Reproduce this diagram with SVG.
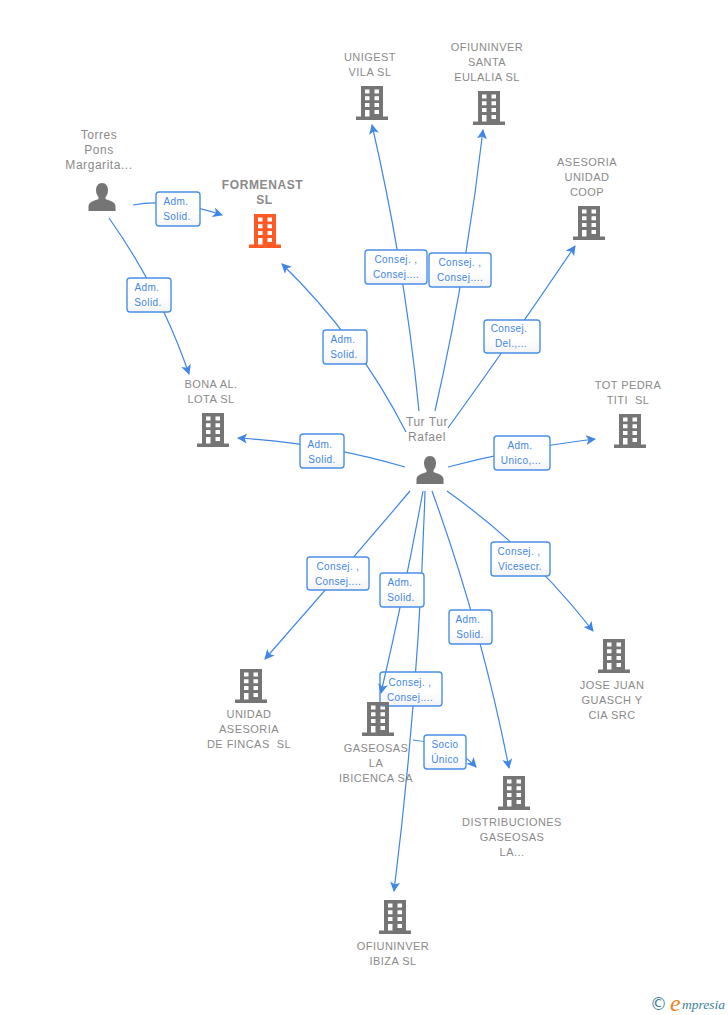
<svg xmlns="http://www.w3.org/2000/svg" xmlns:xlink="http://www.w3.org/1999/xlink" width="728" height="1015" viewBox="0 0 728 1015">
<style>
text{font-family:"Liberation Sans",Arial,sans-serif}
.n{font-size:11px;fill:#8a8a8a;text-anchor:middle;letter-spacing:.45px;white-space:pre}
.p{font-size:12px;fill:#8a8a8a;text-anchor:middle;letter-spacing:.55px}
.l{font-size:10px;fill:#3f86e6;text-anchor:middle;letter-spacing:.4px}
.c{fill:none;stroke:#3f86e6;stroke-width:1.2}
.b{fill:url(#g);stroke:#4a8fe8;stroke-width:1.4}
</style>
<defs>
<linearGradient id="g" x1="0" y1="0" x2="0" y2="1"><stop offset="0" stop-color="#fff"/><stop offset="0.6" stop-color="#fff"/><stop offset="1" stop-color="#f3f3f3"/></linearGradient>
<marker id="a" markerUnits="userSpaceOnUse" markerWidth="11" markerHeight="11" refX="9" refY="5" orient="auto"><path d="M0 0L10 5L0 10L2.500 5Z" fill="#3f86e6"/></marker>
<g id="bld"><path d="M-11-17H11V13.500H16V17H-16V13.500H-11ZM-7-13.500V-9.500H-2.500V-13.500ZM2.500-13.500V-9.500H7V-13.500ZM-7-6.700V-2.700H-2.500V-6.700ZM2.500-6.700V-2.700H7V-6.700ZM-7 0V4H-2.500V0ZM2.500 0V4H7V0ZM-7 7V13.500H-2.500V7ZM2.500 7V11H7V7Z" fill-rule="evenodd"/></g>
<g id="per"><path d="M0-14C4-14 6-10.500 6-7C6-3.500 4.500-1 3.500 0V2C6 3.500 13 4 13.500 9V14H-13.500V9C-13 4-6 3.500-3.500 2V0C-4.500-1-6-3.500-6-7C-6-10.500-4-14 0-14Z"/></g>
</defs>
<rect width="728" height="1015" fill="#fff"/>
<g id="connectors">
<path class="c" marker-end="url(#a)" d="M133 205Q170 198 222 215"/>
<path class="c" marker-end="url(#a)" d="M109 218Q160 290 189 374"/>
<path class="c" marker-end="url(#a)" d="M406 432Q358 338 282 264"/>
<path class="c" marker-end="url(#a)" d="M419 411Q405 268 372 125"/>
<path class="c" marker-end="url(#a)" d="M435 411Q467 270 483 130"/>
<path class="c" marker-end="url(#a)" d="M448 428Q513 338 575 246"/>
<path class="c" marker-end="url(#a)" d="M405 467Q323 443 238 438"/>
<path class="c" marker-end="url(#a)" d="M448 467Q520 448 595 439"/>
<path class="c" marker-end="url(#a)" d="M410 491Q339 575 265 659"/>
<path class="c" marker-end="url(#a)" d="M425 491Q419 691 394 891"/>
<path class="c" marker-end="url(#a)" d="M432 491Q481 626 509 768"/>
<path class="c" marker-end="url(#a)" d="M447 491Q530 550 593 631"/>
<path class="c" marker-end="url(#a)" d="M413 740Q456 745 476 767"/>
</g>
<g id="edge-labels">
<rect class="b" x="156" y="192" width="44" height="34" rx="3"/><text class="l" x="176" y="205">Adm.</text><text class="l" x="177" y="220">Solid.</text>
<rect class="b" x="127" y="278" width="44" height="34" rx="3"/><text class="l" x="147" y="291">Adm.</text><text class="l" x="148" y="306">Solid.</text>
<rect class="b" x="323" y="330" width="44" height="34" rx="3"/><text class="l" x="343" y="343">Adm.</text><text class="l" x="344" y="358">Solid.</text>
<rect class="b" x="365" y="250" width="62" height="34" rx="3"/><text class="l" x="396" y="263">Consej. ,</text><text class="l" x="396" y="278">Consej....</text>
<rect class="b" x="429" y="253" width="62" height="34" rx="3"/><text class="l" x="460" y="266">Consej. ,</text><text class="l" x="460" y="281">Consej....</text>
<rect class="b" x="484" y="320" width="56" height="33" rx="3"/><text class="l" x="509" y="332">Consej.</text><text class="l" x="511" y="347">Del.,...</text>
<rect class="b" x="300" y="434" width="44" height="34" rx="3"/><text class="l" x="320" y="448">Adm.</text><text class="l" x="322" y="463">Solid.</text>
<rect class="b" x="494" y="436" width="56" height="34" rx="3"/><text class="l" x="520" y="449">Adm.</text><text class="l" x="521" y="464">Unico,...</text>
<rect class="b" x="307" y="557" width="62" height="33" rx="3"/><text class="l" x="338" y="570">Consej. ,</text><text class="l" x="338" y="585">Consej....</text>
<rect class="b" x="491" y="542" width="59" height="34" rx="3"/><text class="l" x="519" y="555">Consej. ,</text><text class="l" x="520" y="570">Vicesecr.</text>
<rect class="b" x="449" y="610" width="43" height="34" rx="3"/><text class="l" x="468" y="623">Adm.</text><text class="l" x="470" y="638">Solid.</text>
<rect class="b" x="380" y="672" width="62" height="34" rx="3"/><text class="l" x="410" y="686">Consej. ,</text><text class="l" x="410" y="701">Consej....</text>
<rect class="b" x="424" y="735" width="42" height="34" rx="3"/><text class="l" x="445" y="748">Socio</text><text class="l" x="445" y="763">Único</text>
</g>
<g id="connectors-top">
<path class="c" marker-end="url(#a)" d="M423 491Q405 590 381 693"/>
</g>
<g id="edge-labels-top">
<rect class="b" x="380" y="573" width="44" height="34" rx="3"/><text class="l" x="400" y="586">Adm.</text><text class="l" x="401" y="601">Solid.</text>
</g>
<g id="torres" fill="#757575"><use xlink:href="#per" x="102" y="197"/><text class="p" x="99" y="139">Torres</text><text class="p" x="99" y="154">Pons</text><text class="p" x="99" y="169">Margarita...</text></g>
<g id="tur" fill="#757575"><use xlink:href="#per" x="430" y="470"/><text class="p" x="427" y="426">Tur Tur</text><text class="p" x="427" y="441">Rafael</text></g>
<g id="formenast" fill="#ff5a26"><use xlink:href="#bld" x="265" y="231"/><text class="n" x="262.500" y="189" style="font-weight:bold;font-size:12px;letter-spacing:.6px">FORMENAST</text><text class="n" x="264.500" y="204" style="font-weight:bold;font-size:12px;letter-spacing:.6px">SL</text></g>
<g id="unigest" fill="#757575"><use xlink:href="#bld" x="372" y="103"/><text class="n" x="370" y="61">UNIGEST</text><text class="n" x="370" y="76">VILA SL</text></g>
<g id="ofiuninver-santa" fill="#757575"><use xlink:href="#bld" x="489" y="108"/><text class="n" x="487" y="51">OFIUNINVER</text><text class="n" x="487" y="66">SANTA</text><text class="n" x="487" y="81">EULALIA SL</text></g>
<g id="asesoria" fill="#757575"><use xlink:href="#bld" x="589" y="223"/><text class="n" x="587" y="166">ASESORIA</text><text class="n" x="587" y="181">UNIDAD</text><text class="n" x="587" y="196">COOP</text></g>
<g id="bona" fill="#757575"><use xlink:href="#bld" x="213" y="430"/><text class="n" x="211" y="388">BONA AL.</text><text class="n" x="211" y="403">LOTA SL</text></g>
<g id="tot-pedra" fill="#757575"><use xlink:href="#bld" x="630" y="431"/><text class="n" x="628" y="389">TOT PEDRA</text><text class="n" x="628" y="404">TITI  SL</text></g>
<g id="unidad" fill="#757575"><use xlink:href="#bld" x="251" y="686"/><text class="n" x="249" y="718">UNIDAD</text><text class="n" x="249" y="733">ASESORIA</text><text class="n" x="249" y="748">DE FINCAS  SL</text></g>
<g id="gaseosas" fill="#757575"><use xlink:href="#bld" x="378" y="719"/><text class="n" x="376" y="752">GASEOSAS</text><text class="n" x="376" y="767">LA</text><text class="n" x="376" y="782">IBICENCA SA</text></g>
<g id="jose-juan" fill="#757575"><use xlink:href="#bld" x="614" y="656"/><text class="n" x="612" y="689">JOSE JUAN</text><text class="n" x="612" y="704">GUASCH Y</text><text class="n" x="612" y="719">CIA SRC</text></g>
<g id="distribuciones" fill="#757575"><use xlink:href="#bld" x="514" y="793"/><text class="n" x="512" y="826">DISTRIBUCIONES</text><text class="n" x="512" y="841">GASEOSAS</text><text class="n" x="512" y="856">LA...</text></g>
<g id="ofiuninver-ibiza" fill="#757575"><use xlink:href="#bld" x="395" y="917"/><text class="n" x="393" y="950">OFIUNINVER</text><text class="n" x="393" y="965">IBIZA SL</text></g>
<g id="logo"><text x="650" y="1010" font-size="17" fill="#3d7f99" style="font-family:'DejaVu Sans',sans-serif">©</text><text x="670" y="1011" font-size="24" fill="#f08020" font-style="italic" style="font-family:'Liberation Serif',serif">e</text><text x="682" y="1009" font-size="13.500" fill="#3d7f99" font-style="italic" style="font-family:'Liberation Serif',serif">mpresia</text></g>
</svg>
